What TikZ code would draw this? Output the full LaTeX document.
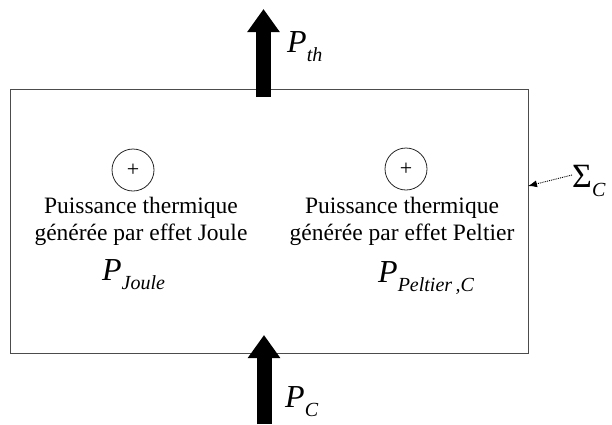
\documentclass[tikz,border=0pt]{standalone}
\usepackage{fontspec}
\setmainfont{Liberation Serif}
\usetikzlibrary{arrows.meta}
\tikzset{
  frame/.style={draw=black!70, line width=1.2pt},
  bigarrow/.style={line width=15pt, draw=black, -{Triangle[width=31pt,length=23pt]}},
  plusnode/.style={draw=black!85, circle, line width=0.8pt, minimum size=42pt, inner sep=0pt, font=\fontsize{22}{24}\selectfont},
  desc/.style={align=center, inner sep=0pt, anchor=base, font=\fontsize{23.5}{27}\selectfont},
  biglabel/.style={inner sep=0pt, anchor=base west, font=\fontsize{32}{36}\selectfont},
  pointer/.style={densely dotted, line width=0.9pt, -{Latex[length=9pt,width=7pt]}}
}
\newcommand{\sub}[1]{\raisebox{-9pt}{\fontsize{20}{24}\selectfont\textit{#1}}}
\begin{document}
\begin{tikzpicture}[x=1pt,y=-1pt]
\useasboundingbox (0,0) rectangle (612,424);
\node[frame, minimum width=518pt, minimum height=264pt, inner sep=0pt, anchor=north west] (box) at (10,89) {};
% top arrow
\coordinate (thfrom) at (263.5,97);
\coordinate (thto) at (263.5,9);
\draw[bigarrow] (thfrom) -- (thto);
% bottom arrow
\coordinate (cfrom) at (264,424);
\coordinate (cto) at (264,335);
\draw[bigarrow] (cfrom) -- (cto);
% labels
\node[biglabel] (pth) at (287,52) {\textit{P}\sub{th}};
\node[biglabel] (pc) at (285,407) {\textit{P}\sub{C}};
\node[biglabel] (pj) at (102,280) {\textit{P}\sub{Joule}};
\node[biglabel] (pp) at (378,282) {\textit{P}\sub{Peltier\,,C}};
\node[biglabel, font=\fontsize{34}{38}\selectfont] (sig) at (572,187) {Σ\sub{C}};
% circles
\node[plusnode] (c1) at (133,170) {+};
\node[plusnode] (c2) at (406,169) {+};
% descriptions
\node[desc] (d1) at (141,240) {Puissance thermique\\générée par effet Joule};
\node[desc] (d2) at (402,240) {Puissance thermique\\générée par effet Peltier};
% sigma pointer
\coordinate (edge) at (528,186);
\draw[pointer] (sig.west |- 0,175) -- (edge);
\end{tikzpicture}
\end{document}
